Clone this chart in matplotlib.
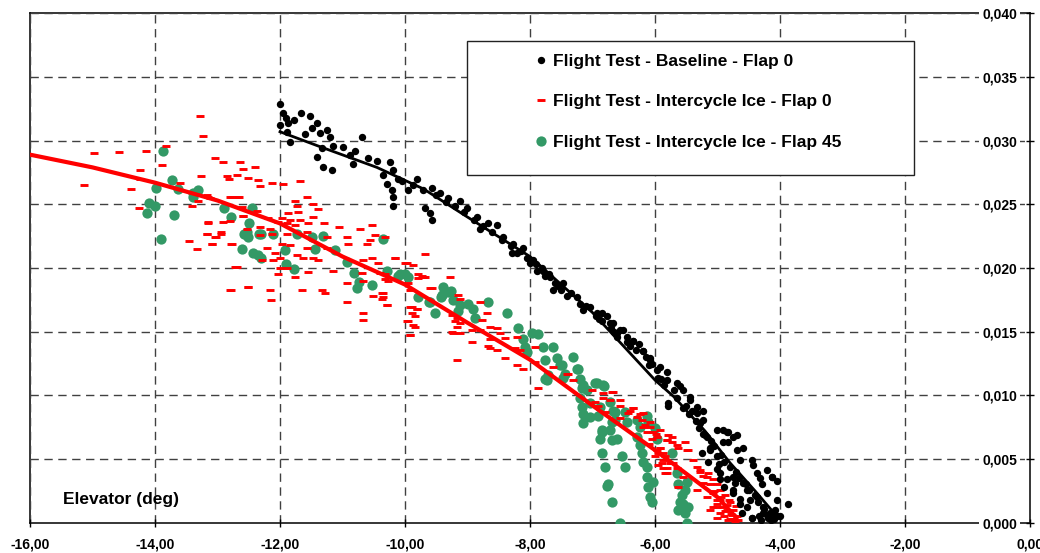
import matplotlib
matplotlib.use('Agg')
import matplotlib.pyplot as plt
from matplotlib.patches import Rectangle
from matplotlib.ticker import FuncFormatter

plt.rcParams['font.family'] = ['Liberation Sans', 'DejaVu Sans']
plt.rcParams['font.weight'] = 'bold'

# ---------------------------------------------------------------
# flight test data
# ---------------------------------------------------------------
# baseline - flap 0 (black dots)
base_x = [-12.0, -11.95, -11.9, -12.0, -11.87, -11.89, -11.84, -11.66, -11.52, -11.49,
          -11.41, -11.36, -11.25, -11.2, -11.33, -11.15, -11.0, -11.41, -11.31, -11.17,
          -10.88, -10.83, -10.8, -10.69, -10.45, -10.35, -10.29, -10.24, -10.19, -10.21,
          -10.19, -10.19, -10.11, -9.95, -9.81, -9.71, -9.57, -9.68, -9.6, -9.57,
          -9.44, -9.31, -9.12, -9.01, -8.85, -8.8, -8.67, -8.53, -8.43, -8.27,
          -8.21, -8.11, -7.95, -7.79, -7.76, -8.29, -8.0, -7.89, -7.68, -7.63,
          -7.47, -7.25, -7.04, -6.93, -6.72, -6.61, -6.51, -6.35, -6.19, -6.08,
          -5.97, -5.79, -5.81, -5.6, -5.44, -5.33, -5.23, -5.17, -5.12, -5.01,
          -4.91, -4.85, -4.75, -4.69, -4.64, -4.59, -4.75, -4.83, -4.59, -4.45,
          -4.37, -4.29, -4.21, -4.13, -4.05, -4.11, -4.0, -3.87, -4.19, -4.27,
          -4.45, -4.53, -4.64, -4.75, -4.85, -4.96, -5.01, -5.12, -5.23, -5.28,
          -5.33, -5.44, -5.55, -5.65, -5.79, -5.81, -5.92, -6.08, -6.19, -6.35,
          -6.45, -6.56, -6.67, -6.77, -6.85, -5.23, -4.91, -4.69, -4.83, -4.43,
          -4.21, -4.13, -4.05, -4.32, -4.45, -4.16, -4.05, -4.64, -4.75, -4.53,
          -4.37, -4.27, -4.96, -7.6, -7.5, -7.35, -7.2, -7.1, -6.95, -6.85,
          -6.7, -6.6, -6.45, -6.3, -6.25, -6.15, -6.05, -5.95, -5.85, -5.7,
          -5.65, -5.5, -5.4, -5.35, -5.3, -5.2, -5.1, -5.05, -4.95, -4.9,
          -4.8, -4.7, -4.65, -4.55, -4.5, -4.4, -4.35, -4.25, -4.2, -4.15,
          -4.1, -4.3, -4.6, -4.9, -5.0, -5.15, -5.25, -9.5, -9.35, -9.2,
          -9.05, -8.9, -8.75, -8.6, -8.45, -8.3, -8.15, -8.05, -7.9, -7.8, -7.7,
          -7.55, -7.4, -7.15, -6.9, -6.65, -6.4, -6.1, -5.9, -5.55, -5.45,
          -4.98, -4.72, -4.48, -4.33, -4.08, -11.78, -11.6, -10.6, -10.05, -9.88]
base_y = [0.0329, 0.0322, 0.0318, 0.0312, 0.0314, 0.0307, 0.0299, 0.0322, 0.0319, 0.0310,
          0.0314, 0.0306, 0.0308, 0.0303, 0.0294, 0.0296, 0.0295, 0.0287, 0.0279, 0.0277,
          0.0289, 0.0282, 0.0292, 0.0303, 0.0284, 0.0273, 0.0266, 0.0283, 0.0277, 0.0261,
          0.0256, 0.0249, 0.0270, 0.0261, 0.0270, 0.0261, 0.0263, 0.0247, 0.0243, 0.0238,
          0.0259, 0.0255, 0.0253, 0.0247, 0.0240, 0.0231, 0.0235, 0.0234, 0.0224, 0.0219,
          0.0212, 0.0216, 0.0206, 0.0198, 0.0194, 0.0212, 0.0204, 0.0198, 0.0193, 0.0183,
          0.0188, 0.0177, 0.0169, 0.0165, 0.0157, 0.0146, 0.0151, 0.0143, 0.0135, 0.0128,
          0.0120, 0.0092, 0.0112, 0.0107, 0.0099, 0.0091, 0.0081, 0.0067, 0.0057, 0.0073,
          0.0063, 0.0071, 0.0067, 0.0057, 0.0049, 0.0031, 0.0036, 0.0071, 0.0059, 0.0049,
          0.0039, 0.0030, 0.0023, 0.0036, 0.0018, 0.0008, 0.0005, 0.0015, 0.0004, 0.0008,
          0.0004, 0.0012, 0.0019, 0.0026, 0.0034, 0.0039, 0.0052, 0.0059, 0.0070, 0.0078,
          0.0086, 0.0096, 0.0104, 0.0110, 0.0094, 0.0118, 0.0122, 0.0129, 0.0135, 0.0143,
          0.0146, 0.0151, 0.0157, 0.0162, 0.0165, 0.0088, 0.0073, 0.0069, 0.0063, 0.0045,
          0.0041, 0.0036, 0.0033, 0.0035, 0.0004, 0.0008, 0.0005, 0.0015, 0.0023, 0.0026,
          0.0020, 0.0012, 0.0034, 0.0188, 0.0183, 0.0180, 0.0172, 0.0170, 0.0162, 0.0158,
          0.0153, 0.0149, 0.0142, 0.0136, 0.0140, 0.0130, 0.0125, 0.0114, 0.0108, 0.0104,
          0.0098, 0.0092, 0.0088, 0.0080, 0.0074, 0.0069, 0.0064, 0.0060, 0.0053, 0.0048,
          0.0044, 0.0040, 0.0035, 0.0030, 0.0026, 0.0022, 0.0016, 0.0011, 0.0006, 0.0002,
          0.0003, 0.0002, 0.0008, 0.0028, 0.0042, 0.0048, 0.0055, 0.0257, 0.0252, 0.0249,
          0.0244, 0.0238, 0.0233, 0.0228, 0.0222, 0.0217, 0.0213, 0.0208, 0.0203, 0.0200, 0.0195,
          0.0186, 0.0178, 0.0167, 0.0160, 0.0150, 0.0139, 0.0124, 0.0113, 0.0090, 0.0085,
          0.0046, 0.0031, 0.0018, 0.0005, 0.0010, 0.0316, 0.0305, 0.0286, 0.0268, 0.0265]

# intercycle ice - flap 0 (red dashes)
ice0_x = [-13.28, -13.23, -13.82, -14.98, -14.58, -14.14, -13.89, -13.04, -12.91, -12.64,
          -12.59, -12.4, -14.24, -15.14, -14.38, -14.24, -13.6, -13.26, -12.85, -12.82,
          -12.69, -12.51, -12.35, -13.15, -13.12, -13.41, -13.31, -12.8, -12.66, -14.26,
          -13.15, -13.17, -13.02, -12.94, -13.46, -13.09, -13.33, -12.78, -12.8, -12.59,
          -12.7, -12.69, -12.78, -12.51, -12.53,
          -13.17, -12.77, -12.67, -12.32, -12.13, -11.95, -11.68, -11.76, -11.57, -11.47,
          -11.73, -11.39, -12.61, -12.37, -12.19, -11.87, -11.71, -11.97, -11.84, -11.68,
          -11.47, -12.59, -13.15, -12.91, -12.32, -12.16, -12.03, -11.89, -11.76, -11.55,
          -11.3, -11.06, -13.17, -12.94, -13.04, -13.09, -12.77, -12.32, -12.13, -11.89,
          -11.57, -11.25, -10.93, -10.72, -10.53, -10.48, -10.32, -10.56, -10.61, -10.91,
          -11.25, -11.57, -11.97, -11.84, -12.21, -12.08, -11.73, -11.63, -11.47, -11.39,
          -12.0, -12.11, -12.29, -12.72, -12.0, -11.89, -11.55, -11.15, -10.67, -10.53,
          -10.43, -10.16, -9.97, -9.87, -12.03, -11.76, -10.93, -10.69, -10.4, -10.67,
          -10.32, -9.73, -9.68, -12.8, -12.51, -12.16, -12.14, -11.65, -11.33, -11.28,
          -10.51, -10.35, -10.37, -10.93, -10.29, -10.67, -10.67, -9.92, -9.81, -9.95,
          -9.84, -9.92, -9.6, -9.79, -9.68, -9.23, -9.17, -9.2,
          -10.16, -10.0, -10.32, -10.27, -9.79, -9.71, -9.95, -9.92, -9.28, -9.57,
          -9.15, -9.12, -10.35, -10.37, -10.29, -9.89, -9.81, -9.89, -9.84, -9.25,
          -9.17, -9.12, -9.97, -9.87, -9.92, -9.25, -9.12, -8.8, -8.69, -8.77,
          -8.93, -8.8, -8.64, -8.53, -8.48, -8.64, -8.4, -8.21, -8.67, -8.53,
          -8.64, -8.93, -8.4, -8.24, -8.16, -9.17, -8.21, -8.11, -7.92, -7.92,
          -7.63, -7.41, -7.87, -7.01, -6.83, -6.69, -6.72,
          -7.39, -7.31, -6.96, -6.91, -6.8, -6.56, -6.35, -6.43, -6.24, -6.56,
          -6.16, -6.08, -5.92, -5.79, -5.73, -5.81, -5.65, -5.49, -5.92, -5.87,
          -5.97, -6.0, -5.87, -5.76, -5.95, -5.81, -5.65, -5.84, -5.55, -5.28,
          -5.17, -5.23, -5.12, -5.63, -5.33, -5.07, -5.17, -5.01, -5.12, -5.01,
          -5.28, -5.23, -5.15, -5.07, -5.01, -4.96, -4.88, -4.96, -4.8, -5.07,
          -4.96, -4.85, -4.77, -4.69, -4.83, -4.72, -4.67, -5.01, -5.39, -5.33,
          -5.92, -5.95, -5.84, -5.89, -5.87, -5.81, -5.71, -5.47, -5.63, -5.52,
          -5.73, -5.81, -5.97, -6.08, -6.03, -6.19, -6.13, -6.21, -6.29, -6.19,
          -6.35, -6.4, -6.67, -6.56, -6.83, -4.9, -4.85, -4.75, -4.95, -5.05,
          -4.7, -4.8, -4.92, -4.78, -4.88, -4.74, -5.0, -4.82, -6.05, -6.1, -5.98]
ice0_y = [0.0319, 0.0304, 0.0296, 0.0290, 0.0291, 0.0292, 0.0281, 0.0286, 0.0283, 0.0283,
          0.0278, 0.0279, 0.0277, 0.0265, 0.0262, 0.0270, 0.0267, 0.0272, 0.0272, 0.0270,
          0.0273, 0.0271, 0.0269, 0.0256, 0.0255, 0.0249, 0.0253, 0.0256, 0.0256, 0.0247,
          0.0236, 0.0227, 0.0224, 0.0227, 0.0221, 0.0219, 0.0215, 0.0219, 0.0237, 0.0241,
          0.0201, 0.0201, 0.0183, 0.0185, 0.0231,
          0.0257, 0.0256, 0.0256, 0.0264, 0.0267, 0.0266, 0.0268, 0.0253, 0.0256, 0.0250,
          0.0249, 0.0246, 0.0248, 0.0245, 0.0239, 0.0243, 0.0244, 0.0239, 0.0238, 0.0238,
          0.0240, 0.0241, 0.0235, 0.0236, 0.0232, 0.0231, 0.0236, 0.0235, 0.0234, 0.0235,
          0.0235, 0.0232, 0.0227, 0.0228, 0.0224, 0.0219, 0.0219, 0.0226, 0.0227, 0.0227,
          0.0228, 0.0224, 0.0224, 0.0231, 0.0234, 0.0226, 0.0224, 0.0222, 0.0219, 0.0219,
          0.0216, 0.0216, 0.0219, 0.0218, 0.0216, 0.0212, 0.0210, 0.0208, 0.0208, 0.0206,
          0.0208, 0.0206, 0.0206, 0.0201, 0.0200, 0.0200, 0.0197, 0.0198, 0.0206, 0.0208,
          0.0204, 0.0208, 0.0204, 0.0202, 0.0195, 0.0193, 0.0188, 0.0196, 0.0196, 0.0190,
          0.0191, 0.0194, 0.0193, 0.0183, 0.0185, 0.0183, 0.0175, 0.0183, 0.0183, 0.0180,
          0.0178, 0.0177, 0.0180, 0.0173, 0.0171, 0.0165, 0.0159, 0.0169, 0.0168, 0.0158,
          0.0154, 0.0147, 0.0184, 0.0192, 0.0211, 0.0149, 0.0154, 0.0158,
          0.0208, 0.0204, 0.0195, 0.0190, 0.0195, 0.0193, 0.0188, 0.0183, 0.0193, 0.0184,
          0.0179, 0.0176, 0.0180, 0.0176, 0.0171, 0.0169, 0.0168, 0.0165, 0.0162, 0.0163,
          0.0161, 0.0157, 0.0158, 0.0155, 0.0147, 0.0150, 0.0149, 0.0173, 0.0165, 0.0159,
          0.0151, 0.0151, 0.0154, 0.0153, 0.0149, 0.0144, 0.0145, 0.0146, 0.0139, 0.0136,
          0.0137, 0.0142, 0.0129, 0.0137, 0.0136, 0.0128, 0.0124, 0.0121, 0.0138, 0.0126,
          0.0122, 0.0117, 0.0106, 0.0104, 0.0102, 0.0103, 0.0096,
          0.0117, 0.0112, 0.0095, 0.0092, 0.0087, 0.0092, 0.0090, 0.0086, 0.0085, 0.0082,
          0.0077, 0.0079, 0.0073, 0.0069, 0.0067, 0.0065, 0.0061, 0.0057, 0.0059, 0.0055,
          0.0057, 0.0052, 0.0049, 0.0047, 0.0045, 0.0043, 0.0043, 0.0039, 0.0036, 0.0040,
          0.0036, 0.0031, 0.0030, 0.0028, 0.0026, 0.0023, 0.0020, 0.0018, 0.0010, 0.0012,
          0.0041, 0.0037, 0.0039, 0.0034, 0.0030, 0.0026, 0.0022, 0.0018, 0.0016, 0.0012,
          0.0008, 0.0010, 0.0006, 0.0005, 0.0002, 0.0001, 0.0002, 0.0004, 0.0049, 0.0044,
          0.0059, 0.0055, 0.0052, 0.0047, 0.0043, 0.0039, 0.0047, 0.0057, 0.0059, 0.0063,
          0.0063, 0.0065, 0.0067, 0.0075, 0.0071, 0.0075, 0.0071, 0.0081, 0.0083, 0.0086,
          0.0090, 0.0088, 0.0103, 0.0096, 0.0098, 0.0005, 0.0014, 0.0010, 0.0020, 0.0025,
          0.0013, 0.0003, 0.0012, 0.0007, 0.0009, 0.0003, 0.0015, 0.0018, 0.0066, 0.0062, 0.0070]

# intercycle ice - flap 45 (green dots)
ice45_x = [-13.87, -13.73, -13.98, -13.63, -13.39, -13.31, -13.39, -14.1, -14.0, -14.13,
           -13.7, -13.9, -12.9, -12.78, -12.45, -12.5, -12.56, -12.51, -12.34, -12.61,
           -12.43, -12.35, -12.53, -12.58, -12.3, -12.11, -12.3, -11.92, -11.9, -11.78,
           -11.73, -11.49, -11.31, -11.44, -11.12, -10.93, -10.35, -10.82, -10.74, -10.77,
           -10.53, -10.29, -10.11, -10.0, -9.95, -9.79, -9.62, -9.52, -9.39, -9.42,
           -9.31, -9.23, -10.08, -9.41, -9.26, -9.6, -9.12, -8.99, -8.91, -9.15,
           -8.88, -8.67, -8.37, -8.19, -8.11, -7.97, -7.87, -8.08, -8.05, -7.79,
           -7.63, -7.76, -7.57, -7.49, -7.71, -7.76, -7.44, -7.31, -7.23, -7.2,
           -7.15, -7.09, -6.93, -6.82, -7.2, -7.17, -7.15, -7.15, -7.04, -7.04,
           -6.88, -6.72, -6.67, -6.64, -6.85, -6.72, -6.69, -7.52, -7.25, -7.73,
           -7.47, -7.17, -6.96, -6.83, -6.91, -6.64, -6.69, -6.61, -6.48, -6.45,
           -6.85, -6.88, -6.85, -6.8, -6.75, -6.69, -6.56, -6.53, -6.48, -6.29,
           -6.24, -6.29, -6.24, -6.21, -6.19, -6.13, -6.13, -6.11, -6.08, -6.05,
           -6.03, -5.97, -6.0, -6.11, -6.13, -5.73, -5.65, -5.63, -5.57, -5.55,
           -5.52, -5.49, -5.63, -5.6, -5.49, -5.52, -5.47, -6.77]
ice45_y = [0.0292, 0.0269, 0.0263, 0.0262, 0.0256, 0.0261, 0.0259, 0.0251, 0.0249, 0.0243,
           0.0242, 0.0223, 0.0247, 0.0240, 0.0247, 0.0235, 0.0227, 0.0224, 0.0227, 0.0215,
           0.0212, 0.0210, 0.0228, 0.0227, 0.0227, 0.0227, 0.0208, 0.0214, 0.0203, 0.0199,
           0.0227, 0.0224, 0.0225, 0.0215, 0.0214, 0.0205, 0.0223, 0.0196, 0.0189, 0.0184,
           0.0187, 0.0198, 0.0194, 0.0195, 0.0193, 0.0177, 0.0173, 0.0165, 0.0185, 0.0177,
           0.0181, 0.0175, 0.0195, 0.0179, 0.0182, 0.0173, 0.0171, 0.0172, 0.0168, 0.0166,
           0.0161, 0.0173, 0.0165, 0.0153, 0.0144, 0.0149, 0.0148, 0.0138, 0.0134, 0.0138,
           0.0138, 0.0128, 0.0129, 0.0124, 0.0116, 0.0113, 0.0117, 0.0130, 0.0121, 0.0113,
           0.0108, 0.0104, 0.0110, 0.0107, 0.0098, 0.0091, 0.0085, 0.0078, 0.0094, 0.0083,
           0.0091, 0.0095, 0.0088, 0.0081, 0.0071, 0.0073, 0.0065, 0.0124, 0.0121, 0.0112,
           0.0114, 0.0106, 0.0110, 0.0108, 0.0084, 0.0087, 0.0079, 0.0066, 0.0087, 0.0079,
           0.0073, 0.0066, 0.0055, 0.0044, 0.0030, 0.0016, 0.0000, 0.0052, 0.0044, 0.0081,
           0.0075, 0.0067, 0.0061, 0.0055, 0.0048, 0.0044, 0.0036, 0.0028, 0.0020, 0.0016,
           0.0032, 0.0066, 0.0074, 0.0079, 0.0084, 0.0055, 0.0039, 0.0030, 0.0022, 0.0015,
           0.0008, 0.0000, 0.0010, 0.0016, 0.0032, 0.0026, 0.0012, 0.0029]

# polynomial trend lines
trend_base_x = [-12.0, -11.4, -10.45, -9.7, -9.0, -8.0, -7.0, -6.0, -5.7, -5.2, -4.8, -4.4, -4.05]
trend_base_y = [0.0307, 0.0296, 0.0279, 0.0262, 0.0240, 0.0209, 0.0165, 0.0112, 0.0099, 0.0072,
                0.0047, 0.0025, 0.0005]
trend_ice_x = [-16, -15, -14, -13, -12, -11, -10, -9, -8, -7, -6, -5, -4.7]
trend_ice_y = [0.0289, 0.0279, 0.0267, 0.0253, 0.0235, 0.0209, 0.0187, 0.0157, 0.0128, 0.0092,
               0.0057, 0.0020, 0.0004]

labels = ['Flight Test - Baseline - Flap 0',
          'Flight Test - Intercycle Ice - Flap 0',
          'Flight Test - Intercycle Ice - Flap 45']
green = '#339966'

##########################################
fig = plt.figure(figsize=(10.4, 5.53), dpi=100)
ax = fig.add_axes([0.02885, 0.05479, 0.96153, 0.92116])

ax.plot(ice45_x, ice45_y, 'o', ms=7.4, mew=0, color=green, zorder=3, label=labels[2])
ax.plot(ice0_x, ice0_y, '_', ms=5.8, mew=2.1, color='red', zorder=4, label=labels[1])
ax.plot(trend_ice_x, trend_ice_y, '-', lw=3.0, color='red', zorder=5)
ax.plot(base_x, base_y, 'o', ms=5.3, mew=0, color='black', zorder=6, label=labels[0])
ax.plot(trend_base_x, trend_base_y, '-', lw=2.0, color='black', zorder=7)

ax.set_xlim(-16, 0)
ax.set_ylim(0, 0.040)
ax.set_xticks(range(-16, 1, 2))
ax.set_yticks([i * 0.005 for i in range(9)])
ax.xaxis.set_major_formatter(FuncFormatter(lambda v, p: f'{v:.2f}'.replace('.', ',').replace('-0,00', '0,00')))
ax.yaxis.set_major_formatter(FuncFormatter(lambda v, p: f'{v:.3f}'.replace('.', ',')))

ax.grid(True, linestyle=(0, (6, 4)), color='#404040', linewidth=1.0)
ax.set_axisbelow(False)
for s in ax.spines.values():
    s.set_linewidth(1.1)

ax.yaxis.tick_right()
ax.tick_params(axis='x', direction='inout', length=6, width=1, pad=8, labelsize=10)
ax.tick_params(axis='y', direction='inout', length=6, width=1, pad=-12.4, labelsize=10)
for lbl in ax.get_yticklabels():
    lbl.set_horizontalalignment('right')
    lbl.set_fontweight('bold')
    lbl.set_bbox(dict(facecolor='white', edgecolor='none', pad=2.5))
for lbl in ax.get_xticklabels():
    lbl.set_fontweight('bold')

ax.text(0.033, 0.045, 'Elevator (deg)', transform=ax.transAxes, va='center',
        fontsize=12.5, fontweight='bold')

# legend box
ax.add_patch(Rectangle((467 / 1040, 1 - 175 / 553), 447 / 1040, 134 / 553,
                       transform=fig.transFigure, facecolor='white', edgecolor='#222222',
                       linewidth=1.0, zorder=8, clip_on=False))
h, l = ax.get_legend_handles_labels()
order = [2, 1, 0]
leg = ax.legend([h[i] for i in order], [l[i] for i in order], loc='upper left',
                bbox_to_anchor=(535.6 / 1040, 1 - 54 / 553), bbox_transform=fig.transFigure,
                frameon=False, borderpad=0, borderaxespad=0, handlelength=0.6,
                handletextpad=0.4, labelspacing=1.45, prop={'size': 12.5, 'weight': 'bold'})
leg.set_zorder(9)

fig.savefig('out.png', dpi=100)
